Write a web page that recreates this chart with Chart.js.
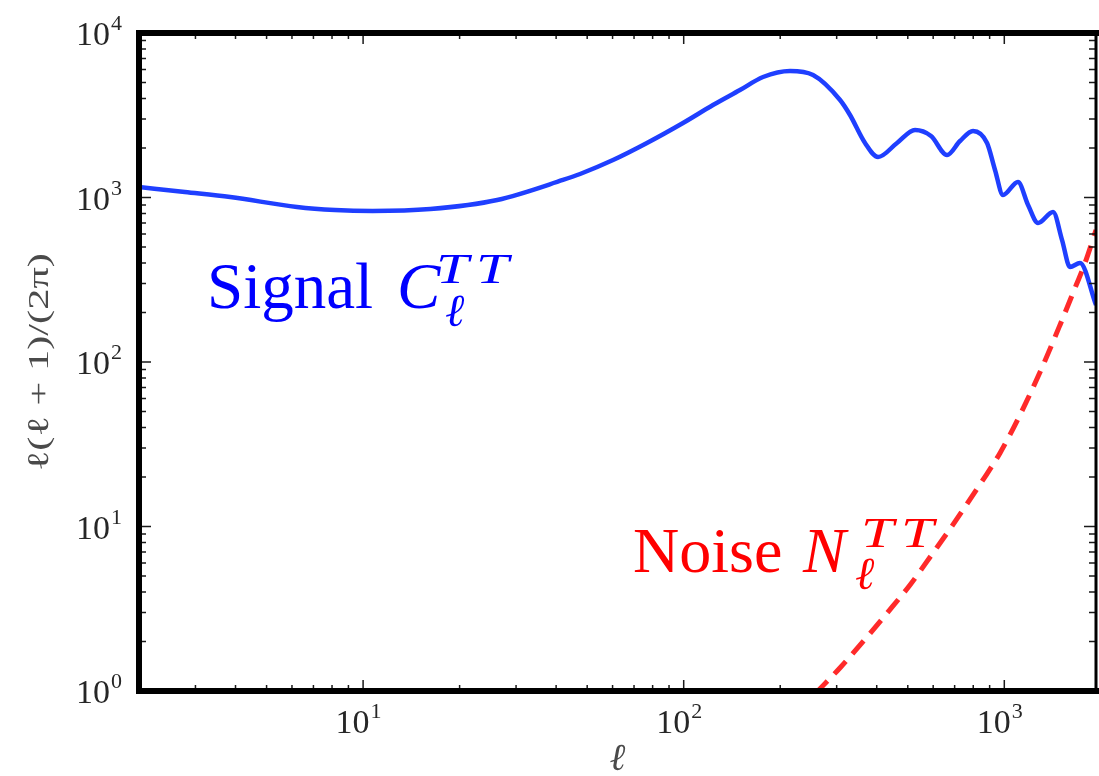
<!DOCTYPE html>
<html>
<head>
<meta charset="utf-8">
<script src="https://cdn.jsdelivr.net/npm/chart.js@4.4.1/dist/chart.umd.min.js"></script>
<style>
html,body{margin:0;padding:0;background:#ffffff;}
canvas{display:block;}
.pre{position:absolute;left:-9999px;top:0;font-family:"Liberation Serif";}
</style>
</head>
<body>
<span class="pre">Signal 10 ℓ</span><span class="pre" style="font-style:italic">CTN ℓ</span>
<canvas id="c" width="1099" height="776"></canvas>
<script>
// ---- data ----
const signalEll = [2.00, 2.78, 3.85, 6.22, 8.17, 10.7, 16.2, 26.2, 42.0, 47.5, 60.2, 76.8, 99.5, 123.4, 149.8, 176.8, 214.6, 253.2, 307.4, 330.2, 367.8, 403.8, 462.8, 526.6, 590.8, 662.7, 727.6, 798.8, 883.4, 935.4, 990.8, 1103, 1186, 1274, 1419, 1514, 1603, 1722, 1932];
const signalPower = [1158, 1080, 1007, 875, 839, 828, 851, 966, 1278, 1390, 1690, 2145, 2838, 3650, 4503, 5401, 5875, 5556, 3915, 3174, 2145, 1763, 2145, 2572, 2365, 1813, 2205, 2537, 2145, 1470, 1036, 1242, 900, 700, 817, 551, 378, 400, 222];
const noiseEll = [258, 307, 373, 431, 508, 599, 677, 858, 970, 1119, 1293, 1492, 1638, 1785, 1932];
const noisePower = [0.97, 1.38, 2.13, 2.98, 4.41, 6.90, 9.66, 19.2, 28.0, 47.6, 87.0, 168, 263, 400, 634];
const xTickExponents = [1, 2, 3];
const yTickExponents = [0, 1, 2, 3, 4];
const xRange = [2, 1932];
const yRange = [1, 10000];
const signalLabelAt = [3.26, 213];   // data coords of label baseline start
const noiseLabelAt = [69.5, 5.29];

const SERIF = '"Liberation Serif"';

function drawPow(ctx, exp, px, py, mode) {
  ctx.font = '34px ' + SERIF;
  const w1 = ctx.measureText('10').width;
  ctx.font = '22px ' + SERIF;
  const w2 = ctx.measureText(String(exp)).width;
  let xs, base;
  if (mode === 'y') {
    xs = 121 - w1 - w2;
    base = py + 12;
  } else {
    xs = px - 5 - (w1 + w2) / 2;
    base = 733;
  }
  ctx.textAlign = 'left';
  ctx.textBaseline = 'alphabetic';
  ctx.font = '34px ' + SERIF;
  ctx.fillText('10', xs, base);
  ctx.font = '22px ' + SERIF;
  ctx.fillText(String(exp), xs + w1 + 1, base - 15);
}

function drawTT(ctx, x, base, color) {
  ctx.font = 'italic 42px ' + SERIF;
  ctx.fillStyle = color;
  for (let i = 0; i < 2; i++) {
    ctx.save();
    ctx.translate(x + i * 40, base);
    ctx.scale(1.4, 1);
    ctx.fillText('T', 0, 0);
    ctx.restore();
  }
}

const framePlugin = {
  id: 'frame',
  afterDatasetsDraw(chart) {
    const { ctx, chartArea: a, scales } = chart;
    const xs = scales.x, ys = scales.y;
    ctx.save();
    ctx.strokeStyle = '#1a1a1a';
    ctx.lineWidth = 1.5;
    ctx.beginPath();
    for (let n = 0; n <= 3; n++) {
      for (let k = 1; k <= 9; k++) {
        const v = k * Math.pow(10, n);
        if (v < xRange[0] || v > xRange[1]) continue;
        const p = xs.getPixelForValue(v);
        const len = k === 1 ? 11 : 6;
        ctx.moveTo(p, a.bottom); ctx.lineTo(p, a.bottom - len);
        ctx.moveTo(p, a.top); ctx.lineTo(p, a.top + len);
      }
    }
    for (let n = 0; n <= 4; n++) {
      for (let k = 1; k <= 9; k++) {
        const v = k * Math.pow(10, n);
        if (v < yRange[0] || v > yRange[1]) continue;
        const p = ys.getPixelForValue(v);
        const len = k === 1 ? 12 : 7;
        ctx.moveTo(a.left, p); ctx.lineTo(a.left + len, p);
        ctx.moveTo(a.right, p); ctx.lineTo(a.right - len, p);
      }
    }
    ctx.stroke();
    ctx.strokeStyle = '#000';
    ctx.lineJoin = 'miter';
    ctx.lineCap = 'square';
    ctx.lineWidth = 6;
    ctx.beginPath();
    ctx.moveTo(a.right, a.top);
    ctx.lineTo(a.left, a.top);
    ctx.lineTo(a.left, a.bottom);
    ctx.lineTo(a.right, a.bottom);
    ctx.stroke();
    ctx.lineWidth = 3;
    ctx.lineCap = 'butt';
    ctx.beginPath();
    ctx.moveTo(a.right, a.top);
    ctx.lineTo(a.right, a.bottom);
    ctx.stroke();

    ctx.fillStyle = '#262626';
    yTickExponents.forEach(e => drawPow(ctx, e, 0, ys.getPixelForValue(Math.pow(10, e)), 'y'));
    xTickExponents.forEach(e => drawPow(ctx, e, xs.getPixelForValue(Math.pow(10, e)), 0, 'x'));

    ctx.fillStyle = '#4a4a4a';
    ctx.save();
    ctx.translate(40, (a.top + a.bottom) / 2);
    ctx.rotate(-Math.PI / 2);
    ctx.font = '30px ' + SERIF;
    const yt = 'ℓ(ℓ + 1)/(2π)';
    const wt = ctx.measureText(yt).width;
    ctx.scale(218 / wt, 1);
    ctx.textAlign = 'center';
    ctx.textBaseline = 'middle';
    ctx.fillText(yt, 0, 0);
    ctx.restore();

    ctx.font = 'italic 38px ' + SERIF;
    ctx.textAlign = 'center';
    ctx.textBaseline = 'alphabetic';
    ctx.fillText('ℓ', (a.left + a.right) / 2, 770);

    ctx.textAlign = 'left';
    const sx = xs.getPixelForValue(signalLabelAt[0]);
    const sb = ys.getPixelForValue(signalLabelAt[1]);
    ctx.fillStyle = '#0000ff';
    ctx.font = '65px ' + SERIF;
    ctx.fillText('Signal', sx, sb);
    ctx.font = 'italic 65px ' + SERIF;
    ctx.fillText('C', sx + 190, sb);
    drawTT(ctx, sx + 229, sb - 25, '#0000ff');
    ctx.font = 'italic 46px ' + SERIF;
    ctx.fillText('ℓ', sx + 238, sb + 18);

    const nx = xs.getPixelForValue(noiseLabelAt[0]);
    const nb = ys.getPixelForValue(noiseLabelAt[1]);
    ctx.fillStyle = '#ff0000';
    ctx.font = '64px ' + SERIF;
    ctx.fillText('Noise', nx, nb);
    ctx.font = 'italic 64px ' + SERIF;
    ctx.fillText('N', nx + 170, nb);
    drawTT(ctx, nx + 228, nb - 25, '#ff0000');
    ctx.font = 'italic 46px ' + SERIF;
    ctx.fillText('ℓ', nx + 222, nb + 17);

    ctx.restore();
  }
};

function build() {
  new Chart(document.getElementById('c').getContext('2d'), {
    type: 'line',
    data: {
      datasets: [
        {
          label: 'Signal',
          data: signalEll.map((l, i) => ({ x: l, y: signalPower[i] })),
          borderColor: '#1f3fff',
          borderWidth: 4.5,
          pointRadius: 0,
          fill: false,
          cubicInterpolationMode: 'monotone'
        },
        {
          label: 'Noise',
          data: noiseEll.map((l, i) => ({ x: l, y: noisePower[i] })),
          borderColor: '#ff2a2a',
          borderWidth: 5,
          borderDash: [17, 10],
          borderCapStyle: 'butt',
          pointRadius: 0,
          fill: false,
          cubicInterpolationMode: 'monotone'
        }
      ]
    },
    options: {
      responsive: false,
      animation: false,
      devicePixelRatio: 1,
      layout: { padding: { top: 33, right: 3, left: 0, bottom: 0 } },
      plugins: { legend: { display: false }, tooltip: { enabled: false } },
      scales: {
        x: {
          type: 'logarithmic', min: xRange[0], max: xRange[1],
          grid: { display: false }, border: { display: false }, ticks: { display: false },
          afterFit(s) { s.height = 85; }
        },
        y: {
          type: 'logarithmic', min: yRange[0], max: yRange[1],
          grid: { display: false }, border: { display: false }, ticks: { display: false },
          afterFit(s) { s.width = 139; }
        }
      }
    },
    plugins: [framePlugin]
  });
}

const fontLoads = [
  '34px "Liberation Serif"', 'italic 34px "Liberation Serif"'
].map(f => (document.fonts && document.fonts.load) ? document.fonts.load(f, 'Signal 10 ℓ') : Promise.resolve());
Promise.all(fontLoads).then(build, build);
</script>
</body>
</html>
